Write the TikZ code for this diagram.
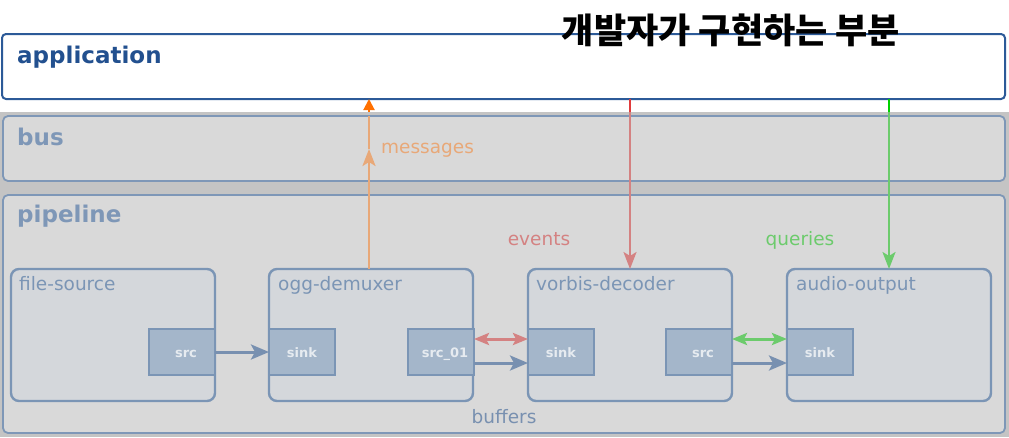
\documentclass[tikz,border=0pt]{standalone}
\usepackage{fontspec}
\setmainfont{DejaVu Sans}
\newfontfamily\kor{Noto Sans CJK KR}
\usetikzlibrary{arrows.meta}
\definecolor{appblue}{HTML}{2C5A98}
\definecolor{apptext}{HTML}{22508F}
\definecolor{outergray}{HTML}{C4C4C4}
\definecolor{layerfill}{HTML}{D9D9D9}
\definecolor{layerline}{HTML}{7E97B7}
\definecolor{elemfill}{HTML}{D4D7DB}
\definecolor{elemline}{HTML}{7B95B5}
\definecolor{padfill}{HTML}{A4B6CA}
\definecolor{padtext}{HTML}{E6EBF0}
\definecolor{dataline}{HTML}{7890B0}
\definecolor{evcol}{HTML}{D48282}
\definecolor{evbright}{HTML}{E03C3C}
\definecolor{qcol}{HTML}{6CCB6C}
\definecolor{qbright}{HTML}{00D000}
\definecolor{mcol}{HTML}{E8A878}
\definecolor{mbright}{HTML}{FF7000}
\tikzset{
  box/.style={anchor=north west, inner sep=0pt, outer sep=0pt},
  appbox/.style={box, draw=appblue, fill=white, line width=2pt, rounded corners=4pt},
  layerbox/.style={box, draw=layerline, fill=layerfill, line width=1.8pt, rounded corners=5pt},
  elembox/.style={box, draw=elemline, fill=elemfill, line width=2.4pt, rounded corners=8pt, minimum width=204pt, minimum height=132pt},
  padbox/.style={box, draw=elemline, fill=padfill, line width=2.4pt, minimum width=66pt, minimum height=46pt},
  padlbl/.style={font=\bfseries\fontsize{13}{13}\selectfont, text=padtext, anchor=base, inner sep=0pt},
  elemlbl/.style={font=\fontsize{18.5}{18.5}\selectfont, text=elemline, anchor=base west, inner sep=0pt},
  layerlbl/.style={font=\bfseries\fontsize{23}{23}\selectfont, text=layerline, anchor=base west, inner sep=0pt},
  flowlbl/.style={font=\fontsize{18.5}{18.5}\selectfont, anchor=base, inner sep=0pt},
  bigtip/.style={-{Stealth[length=18pt,width=15pt,inset=4pt]}},
  vtip/.style={-{Stealth[length=17pt,width=13pt,inset=4pt]}},
  dtip/.style={{Stealth[length=15pt,width=12pt,inset=3pt]}-{Stealth[length=15pt,width=12pt,inset=3pt]}},
  data/.style={draw=dataline, fill=dataline, line width=3pt, bigtip},
}
\begin{document}
\begin{tikzpicture}[x=1pt,y=-1pt]
\useasboundingbox (0,0) rectangle (1009,437);
\fill[white] (0,0) rectangle (1009,437);
% gray backdrop
\node[box, fill=outergray, minimum width=1009pt, minimum height=325pt] (bg) at (0,112) {};
% application
\node[appbox, minimum width=1003pt, minimum height=65pt] (app) at (2,34) {};
\node[layerlbl, text=apptext] (applbl) at (17,63) {application};
% bus & pipeline
\node[layerbox, minimum width=1002pt, minimum height=65pt] (bus) at (3,116) {};
\node[layerlbl] (buslbl) at (17,145) {bus};
\node[layerbox, minimum width=1002pt, minimum height=238pt] (pipe) at (3,195) {};
\node[layerlbl] (pipelbl) at (17,222) {pipeline};
% elements
\node[elembox] (fs) at (11,269) {};
\node[elembox] (ogg) at (269,269) {};
\node[elembox] (vd) at (528,269) {};
\node[elembox] (ao) at (787,269) {};
\node[elemlbl] (fslbl) at (19,290) {file-source};
\node[elemlbl] (ogglbl) at (278,290) {ogg-demuxer};
\node[elemlbl] (vdlbl) at (536,290) {vorbis-decoder};
\node[elemlbl] (aolbl) at (796,290) {audio-output};
% pads
\node[padbox] (fssrc) at (149,329) {};
\node[padbox] (oggsink) at (269,329) {};
\node[padbox] (oggsrc) at (408,329) {};
\node[padbox] (vdsink) at (528,329) {};
\node[padbox] (vdsrc) at (666,329) {};
\node[padbox] (aosink) at (787,329) {};
\node[padlbl] (l1) at (186,357) {src};
\node[padlbl] (l2) at (302,357) {sink};
\node[padlbl] (l3) at (445,357) {src\_01};
\node[padlbl] (l4) at (561,357) {sink};
\node[padlbl] (l5) at (703,357) {src};
\node[padlbl] (l6) at (820,357) {sink};
% data flow
\draw[data] (fssrc.east) -- (oggsink.west);
\draw[data] ([yshift=-11pt]oggsrc.east) -- ([yshift=-11pt]vdsink.west);
\draw[data] ([yshift=-11pt]vdsrc.east) -- ([yshift=-11pt]aosink.west);
\draw[draw=evcol, fill=evcol, line width=3pt, dtip] ([yshift=13pt]oggsrc.east) -- ([yshift=13pt]vdsink.west);
\draw[draw=qcol, fill=qcol, line width=3pt, dtip] ([yshift=13pt]vdsrc.east) -- ([yshift=13pt]aosink.west);
\node[flowlbl, text=dataline] (buflbl) at (504,423) {buffers};
% messages
\coordinate (mx) at (369,0);
\coordinate (mmid) at (369,149);
\draw[draw=mcol, fill=mcol, line width=2.6pt, vtip] (ogg.north -| mx) -- (mmid);
\draw[draw=mcol, line width=2.6pt] (mmid) -- (bus.north -| mx);
\draw[draw=mbright, fill=mbright, line width=2pt, -{Triangle[length=11pt,width=11pt]}] (bg.north -| mx) -- (app.south -| mx);
\node[flowlbl, text=mcol, anchor=base west] (msglbl) at (381,153) {messages};
% events
\coordinate (ex) at (630,0);
\draw[evbright, line width=2.4pt] (app.south -| ex) -- (bg.north -| ex);
\draw[draw=evcol, fill=evcol, line width=2.4pt, vtip] (bg.north -| ex) -- (vd.north -| ex);
\node[flowlbl, text=evcol] (evlbl) at (539,245) {events};
% queries
\coordinate (qx) at (889,0);
\draw[qbright, line width=2.4pt] (app.south -| qx) -- (bg.north -| qx);
\draw[draw=qcol, fill=qcol, line width=2.4pt, vtip] (bg.north -| qx) -- (ao.north -| qx);
\node[flowlbl, text=qcol] (qlbl) at (800,245) {queries};
% Korean annotation
\node[font=\kor\bfseries\fontsize{35}{35}\selectfont, anchor=base, inner sep=0pt] (kor) at (731,43) {개발자가 구현하는 부분};
\end{tikzpicture}
\end{document}
